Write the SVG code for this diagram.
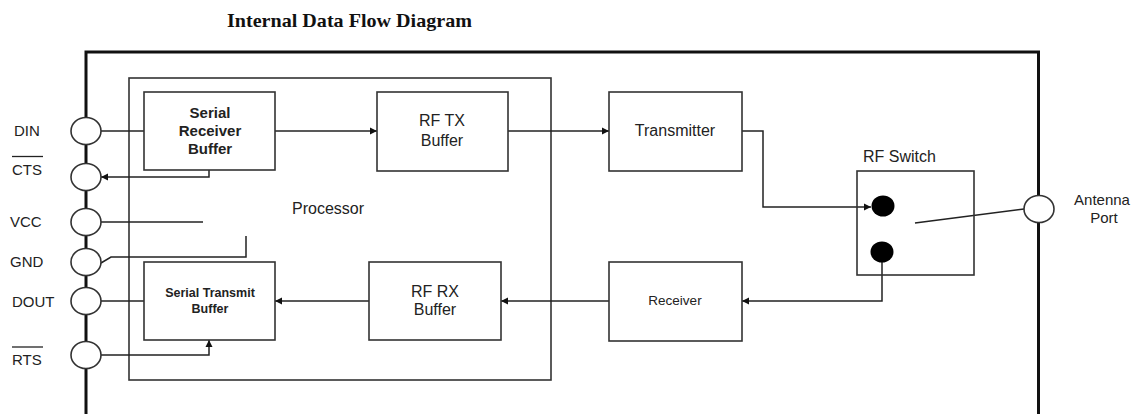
<svg xmlns="http://www.w3.org/2000/svg" width="1136" height="414" viewBox="0 0 1136 414">
<style>
.t{font-family:"Liberation Sans",Arial,sans-serif;fill:#222;}
.b{font-weight:bold;}
.box{fill:#fff;stroke:#333;stroke-width:1.6;}
.ln{fill:none;stroke:#222;stroke-width:1.5;}
.pin{fill:#fff;stroke:#333;stroke-width:1.6;}
.frame{fill:none;stroke:#111;stroke-width:3;}
</style>
<defs>
<marker id="ar" markerUnits="userSpaceOnUse" markerWidth="8" markerHeight="8" viewBox="0 0 8 8" refX="7" refY="4" orient="auto">
<path d="M0,0.5 L7,4 L0,7.5 Z" fill="#111"/>
</marker>
</defs>
<rect width="1136" height="414" fill="#fff"/>
<text x="227" y="27" font-family="'Liberation Serif','Times New Roman',serif" font-weight="bold" font-size="19.5" fill="#111" textLength="245" lengthAdjust="spacingAndGlyphs">Internal Data Flow Diagram</text>

<g id="frame">
<path class="frame" d="M86,414 L86,52 L1038.5,52 L1038.5,414"/>
</g>
<g id="processor">
<rect class="box" x="129" y="78" width="422" height="302" fill="none" style="fill:none"/>
<text class="t" x="292" y="214" font-size="16">Processor</text>
</g>

<g id="connectors">
<path class="ln" d="M101,131 L144,131"/>
<path class="ln" d="M275,131 L377,131" marker-end="url(#ar)"/>
<path class="ln" d="M508,131 L609,131" marker-end="url(#ar)"/>
<path class="ln" d="M742,131 L763,131 L763,207 L871,207" marker-end="url(#ar)"/>
<path class="ln" d="M882,252 L882,301 L742,301" marker-end="url(#ar)"/>
<path class="ln" d="M609,301 L501,301" marker-end="url(#ar)"/>
<path class="ln" d="M369,301 L275,301" marker-end="url(#ar)"/>
<path class="ln" d="M101,301 L144,301"/>
<path class="ln" d="M101,355 L209,355 L209,340" marker-end="url(#ar)"/>
<path class="ln" d="M209,170 L209,177 L101,177" marker-end="url(#ar)"/>
<path class="ln" d="M101,222 L203,222"/>
<path class="ln" d="M101,263 L111,257 L246,257 L246,236"/>
<path class="ln" d="M915,223 L1024,209"/>
</g>

<g id="serial-receiver-buffer">
<rect class="box" x="144" y="92" width="131" height="78"/>
<text class="t b" x="210" y="118" font-size="15" text-anchor="middle">Serial</text>
<text class="t b" x="210" y="136" font-size="15" text-anchor="middle">Receiver</text>
<text class="t b" x="210" y="154" font-size="15" text-anchor="middle">Buffer</text>
</g>
<g id="rf-tx-buffer">
<rect class="box" x="377" y="92" width="131" height="79"/>
<text class="t" x="442" y="126" font-size="16" text-anchor="middle">RF TX</text>
<text class="t" x="442" y="146" font-size="16" text-anchor="middle">Buffer</text>
</g>
<g id="transmitter">
<rect class="box" x="609" y="92" width="133" height="79"/>
<text class="t" x="675" y="136" font-size="16" text-anchor="middle">Transmitter</text>
</g>
<g id="serial-transmit-buffer">
<rect class="box" x="144" y="262" width="131" height="78"/>
<text class="t b" x="210" y="297" font-size="12.5" text-anchor="middle">Serial Transmit</text>
<text class="t b" x="210" y="313" font-size="12.5" text-anchor="middle">Buffer</text>
</g>
<g id="rf-rx-buffer">
<rect class="box" x="369" y="262" width="132" height="78"/>
<text class="t" x="435" y="297" font-size="16" text-anchor="middle">RF RX</text>
<text class="t" x="435" y="315" font-size="16" text-anchor="middle">Buffer</text>
</g>
<g id="receiver">
<rect class="box" x="609" y="262" width="133" height="79"/>
<text class="t" x="675" y="305" font-size="13.5" text-anchor="middle">Receiver</text>
</g>
<g id="rf-switch">
<rect class="box" x="857" y="171" width="117" height="104" style="fill:none"/>
<ellipse cx="883" cy="206" rx="11.5" ry="10.5" fill="#000"/>
<ellipse cx="882" cy="252" rx="11.5" ry="10.5" fill="#000"/>
<text class="t" x="863" y="162" font-size="16">RF Switch</text>
</g>
<g id="antenna-port">
<ellipse class="pin" cx="1039" cy="209" rx="15" ry="13.5"/>
<text class="t" x="1102" y="205" font-size="15" text-anchor="middle">Antenna</text>
<text class="t" x="1104" y="223" font-size="15" text-anchor="middle">Port</text>
</g>

<g id="pin-din">
<ellipse class="pin" cx="86" cy="131" rx="15" ry="13.5"/>
<text class="t" x="14" y="136" font-size="15">DIN</text>
</g>
<g id="pin-cts">
<ellipse class="pin" cx="86" cy="177" rx="15" ry="13.5"/>
<text class="t" x="12" y="175" font-size="15">CTS</text>
<path d="M12,156.5 L43,156.5" stroke="#222" stroke-width="1.3"/>
</g>
<g id="pin-vcc">
<ellipse class="pin" cx="86" cy="222" rx="15" ry="13.5"/>
<text class="t" x="10" y="227" font-size="15">VCC</text>
</g>
<g id="pin-gnd">
<ellipse class="pin" cx="86" cy="262" rx="15" ry="13.5"/>
<text class="t" x="10" y="267" font-size="15">GND</text>
</g>
<g id="pin-dout">
<ellipse class="pin" cx="86" cy="301" rx="15" ry="13.5"/>
<text class="t" x="12" y="307" font-size="15">DOUT</text>
</g>
<g id="pin-rts">
<ellipse class="pin" cx="86" cy="355" rx="15" ry="13.5"/>
<text class="t" x="12" y="365" font-size="15">RTS</text>
<path d="M12,347 L43,347" stroke="#222" stroke-width="1.3"/>
</g>
</svg>
